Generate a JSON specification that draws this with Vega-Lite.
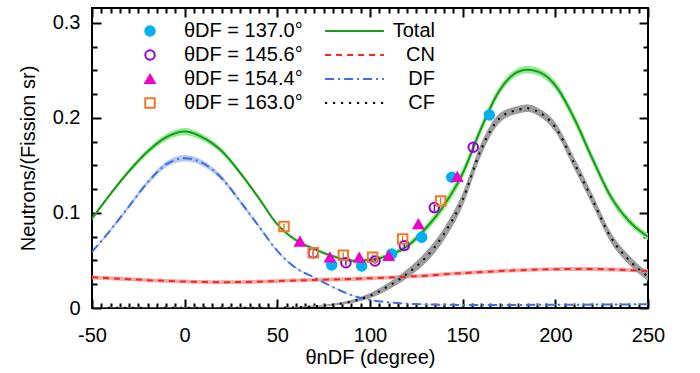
{
  "$schema": "https://vega.github.io/schema/vega-lite/v6.json",
  "width": 556,
  "height": 300,
  "autosize": {"type": "none"},
  "padding": {"left": 92, "top": 8, "right": 52, "bottom": 65},
  "background": "white",
  "config": {
    "font": "Liberation Sans",
    "view": {"stroke": "black", "strokeWidth": 2},
    "axis": {"grid": false, "domain": false, "labelColor": "black", "titleColor": "black", "labelFontSize": 20, "titleFontSize": 20, "titleFontWeight": "normal", "labelOverlap": false, "labelFlush": false, "labelBound": false}
  },
  "datasets": {
    "curves": [
      {"c":"Total","x":-50,"y":0.094,"lo":0.0925,"hi":0.0955},
      {"c":"Total","x":-40,"y":0.12,"lo":0.118,"hi":0.122},
      {"c":"Total","x":-30,"y":0.144,"lo":0.1415,"hi":0.1465},
      {"c":"Total","x":-20,"y":0.1645,"lo":0.1615,"hi":0.1675},
      {"c":"Total","x":-10,"y":0.1795,"lo":0.176,"hi":0.183},
      {"c":"Total","x":0,"y":0.1856,"lo":0.1818,"hi":0.1894},
      {"c":"Total","x":10,"y":0.179,"lo":0.1755,"hi":0.1825},
      {"c":"Total","x":20,"y":0.165,"lo":0.162,"hi":0.168},
      {"c":"Total","x":30,"y":0.142,"lo":0.1395,"hi":0.1445},
      {"c":"Total","x":40,"y":0.1155,"lo":0.1135,"hi":0.1175},
      {"c":"Total","x":50,"y":0.088,"lo":0.0865,"hi":0.0895},
      {"c":"Total","x":60,"y":0.0715,"lo":0.07,"hi":0.073},
      {"c":"Total","x":70,"y":0.062,"lo":0.0605,"hi":0.0635},
      {"c":"Total","x":80,"y":0.0545,"lo":0.053,"hi":0.056},
      {"c":"Total","x":90,"y":0.0498,"lo":0.0483,"hi":0.0513},
      {"c":"Total","x":100,"y":0.0505,"lo":0.0485,"hi":0.0525},
      {"c":"Total","x":110,"y":0.0555,"lo":0.053,"hi":0.058},
      {"c":"Total","x":120,"y":0.065,"lo":0.062,"hi":0.068},
      {"c":"Total","x":130,"y":0.0836,"lo":0.0796,"hi":0.0876},
      {"c":"Total","x":140,"y":0.1083,"lo":0.1033,"hi":0.1133},
      {"c":"Total","x":150,"y":0.1416,"lo":0.1361,"hi":0.1471},
      {"c":"Total","x":160,"y":0.189,"lo":0.184,"hi":0.194},
      {"c":"Total","x":170,"y":0.229,"lo":0.2245,"hi":0.2335},
      {"c":"Total","x":180,"y":0.2485,"lo":0.2445,"hi":0.2525},
      {"c":"Total","x":185,"y":0.2505,"lo":0.2465,"hi":0.2545},
      {"c":"Total","x":190,"y":0.249,"lo":0.245,"hi":0.253},
      {"c":"Total","x":200,"y":0.234,"lo":0.2295,"hi":0.2385},
      {"c":"Total","x":210,"y":0.2,"lo":0.195,"hi":0.205},
      {"c":"Total","x":220,"y":0.157,"lo":0.152,"hi":0.162},
      {"c":"Total","x":230,"y":0.117,"lo":0.1125,"hi":0.1215},
      {"c":"Total","x":240,"y":0.091,"lo":0.087,"hi":0.095},
      {"c":"Total","x":250,"y":0.075,"lo":0.0715,"hi":0.0785},
      {"c":"DF","x":-50,"y":0.059,"lo":0.058,"hi":0.06},
      {"c":"DF","x":-40,"y":0.082,"lo":0.0805,"hi":0.0835},
      {"c":"DF","x":-30,"y":0.107,"lo":0.105,"hi":0.109},
      {"c":"DF","x":-20,"y":0.132,"lo":0.1295,"hi":0.1345},
      {"c":"DF","x":-10,"y":0.151,"lo":0.148,"hi":0.154},
      {"c":"DF","x":0,"y":0.1575,"lo":0.1542,"hi":0.1608},
      {"c":"DF","x":10,"y":0.152,"lo":0.149,"hi":0.155},
      {"c":"DF","x":20,"y":0.1365,"lo":0.134,"hi":0.139},
      {"c":"DF","x":30,"y":0.112,"lo":0.11,"hi":0.114},
      {"c":"DF","x":40,"y":0.086,"lo":0.0845,"hi":0.0875},
      {"c":"DF","x":50,"y":0.06,"lo":0.059,"hi":0.061},
      {"c":"DF","x":60,"y":0.042,"lo":0.0412,"hi":0.0428},
      {"c":"DF","x":70,"y":0.032,"lo":0.0314,"hi":0.0326},
      {"c":"DF","x":80,"y":0.022,"lo":0.0215,"hi":0.0225},
      {"c":"DF","x":90,"y":0.0135,"lo":0.0131,"hi":0.0139},
      {"c":"DF","x":100,"y":0.0085,"lo":0.0082,"hi":0.0088},
      {"c":"DF","x":110,"y":0.006,"lo":0.0057,"hi":0.0063},
      {"c":"DF","x":120,"y":0.0045,"lo":0.0042,"hi":0.0048},
      {"c":"DF","x":130,"y":0.0038,"lo":0.0035,"hi":0.0041},
      {"c":"DF","x":140,"y":0.0034,"lo":0.0031,"hi":0.0037},
      {"c":"DF","x":150,"y":0.0032,"lo":0.0029,"hi":0.0035},
      {"c":"DF","x":160,"y":0.0031,"lo":0.0028,"hi":0.0034},
      {"c":"DF","x":170,"y":0.0031,"lo":0.0028,"hi":0.0034},
      {"c":"DF","x":180,"y":0.0032,"lo":0.0029,"hi":0.0035},
      {"c":"DF","x":190,"y":0.0033,"lo":0.003,"hi":0.0036},
      {"c":"DF","x":200,"y":0.0034,"lo":0.0031,"hi":0.0037},
      {"c":"DF","x":210,"y":0.0035,"lo":0.0032,"hi":0.0038},
      {"c":"DF","x":220,"y":0.0036,"lo":0.0033,"hi":0.0039},
      {"c":"DF","x":230,"y":0.0037,"lo":0.0034,"hi":0.004},
      {"c":"DF","x":240,"y":0.0038,"lo":0.0035,"hi":0.0041},
      {"c":"DF","x":250,"y":0.004,"lo":0.0037,"hi":0.0043},
      {"c":"CN","x":-50,"y":0.0323,"lo":0.0303,"hi":0.0343},
      {"c":"CN","x":-40,"y":0.0313,"lo":0.0293,"hi":0.0333},
      {"c":"CN","x":-30,"y":0.0303,"lo":0.0283,"hi":0.0323},
      {"c":"CN","x":-20,"y":0.0293,"lo":0.0273,"hi":0.0313},
      {"c":"CN","x":-10,"y":0.0285,"lo":0.0265,"hi":0.0305},
      {"c":"CN","x":0,"y":0.0278,"lo":0.0258,"hi":0.0298},
      {"c":"CN","x":10,"y":0.0274,"lo":0.0254,"hi":0.0294},
      {"c":"CN","x":20,"y":0.0272,"lo":0.0252,"hi":0.0292},
      {"c":"CN","x":30,"y":0.0273,"lo":0.0253,"hi":0.0293},
      {"c":"CN","x":40,"y":0.0277,"lo":0.0257,"hi":0.0297},
      {"c":"CN","x":50,"y":0.0283,"lo":0.0263,"hi":0.0303},
      {"c":"CN","x":60,"y":0.029,"lo":0.027,"hi":0.031},
      {"c":"CN","x":70,"y":0.0295,"lo":0.0275,"hi":0.0315},
      {"c":"CN","x":80,"y":0.03,"lo":0.028,"hi":0.032},
      {"c":"CN","x":90,"y":0.0305,"lo":0.0285,"hi":0.0325},
      {"c":"CN","x":100,"y":0.0313,"lo":0.0293,"hi":0.0333},
      {"c":"CN","x":110,"y":0.032,"lo":0.03,"hi":0.034},
      {"c":"CN","x":120,"y":0.033,"lo":0.031,"hi":0.035},
      {"c":"CN","x":130,"y":0.034,"lo":0.032,"hi":0.036},
      {"c":"CN","x":140,"y":0.0355,"lo":0.0335,"hi":0.0375},
      {"c":"CN","x":150,"y":0.0367,"lo":0.0347,"hi":0.0387},
      {"c":"CN","x":160,"y":0.0378,"lo":0.0358,"hi":0.0398},
      {"c":"CN","x":170,"y":0.0388,"lo":0.0368,"hi":0.0408},
      {"c":"CN","x":180,"y":0.0397,"lo":0.0377,"hi":0.0417},
      {"c":"CN","x":190,"y":0.0404,"lo":0.0384,"hi":0.0424},
      {"c":"CN","x":200,"y":0.0408,"lo":0.0388,"hi":0.0428},
      {"c":"CN","x":210,"y":0.041,"lo":0.039,"hi":0.043},
      {"c":"CN","x":220,"y":0.041,"lo":0.039,"hi":0.043},
      {"c":"CN","x":230,"y":0.0405,"lo":0.0385,"hi":0.0425},
      {"c":"CN","x":240,"y":0.0398,"lo":0.0378,"hi":0.0418},
      {"c":"CN","x":250,"y":0.039,"lo":0.037,"hi":0.041},
      {"c":"CF","x":-50,"y":0.0002,"lo":0,"hi":0.0004},
      {"c":"CF","x":-40,"y":0.0002,"lo":0,"hi":0.0004},
      {"c":"CF","x":-30,"y":0.0002,"lo":0,"hi":0.0004},
      {"c":"CF","x":-20,"y":0.0002,"lo":0,"hi":0.0004},
      {"c":"CF","x":-10,"y":0.0002,"lo":0,"hi":0.0004},
      {"c":"CF","x":0,"y":0.0002,"lo":0,"hi":0.0004},
      {"c":"CF","x":10,"y":0.0002,"lo":0,"hi":0.0004},
      {"c":"CF","x":20,"y":0.0002,"lo":0,"hi":0.0004},
      {"c":"CF","x":30,"y":0.0002,"lo":0,"hi":0.0004},
      {"c":"CF","x":40,"y":0.0002,"lo":0,"hi":0.0004},
      {"c":"CF","x":50,"y":0.0004,"lo":0.0001,"hi":0.0007},
      {"c":"CF","x":60,"y":0.0009,"lo":0.0004,"hi":0.0014},
      {"c":"CF","x":70,"y":0.0018,"lo":0.001,"hi":0.0026},
      {"c":"CF","x":80,"y":0.0035,"lo":0.0023,"hi":0.0047},
      {"c":"CF","x":90,"y":0.0068,"lo":0.005,"hi":0.0086},
      {"c":"CF","x":100,"y":0.013,"lo":0.0102,"hi":0.0158},
      {"c":"CF","x":110,"y":0.023,"lo":0.0192,"hi":0.0268},
      {"c":"CF","x":120,"y":0.036,"lo":0.0312,"hi":0.0408},
      {"c":"CF","x":130,"y":0.053,"lo":0.0472,"hi":0.0588},
      {"c":"CF","x":140,"y":0.078,"lo":0.0715,"hi":0.0845},
      {"c":"CF","x":150,"y":0.114,"lo":0.107,"hi":0.121},
      {"c":"CF","x":160,"y":0.167,"lo":0.1605,"hi":0.1735},
      {"c":"CF","x":170,"y":0.1997,"lo":0.1947,"hi":0.2047},
      {"c":"CF","x":180,"y":0.2085,"lo":0.2045,"hi":0.2125},
      {"c":"CF","x":185,"y":0.21,"lo":0.206,"hi":0.214},
      {"c":"CF","x":190,"y":0.207,"lo":0.203,"hi":0.211},
      {"c":"CF","x":200,"y":0.19,"lo":0.185,"hi":0.195},
      {"c":"CF","x":210,"y":0.153,"lo":0.147,"hi":0.159},
      {"c":"CF","x":220,"y":0.114,"lo":0.108,"hi":0.12},
      {"c":"CF","x":230,"y":0.074,"lo":0.0685,"hi":0.0795},
      {"c":"CF","x":240,"y":0.05,"lo":0.045,"hi":0.055},
      {"c":"CF","x":250,"y":0.033,"lo":0.0285,"hi":0.0375}
    ],
    "pts": [
      {"s":"θDF = 137.0°","x":79.3,"y":0.0453,"lo":0.0423,"hi":0.0483},
      {"s":"θDF = 137.0°","x":95.5,"y":0.0442,"lo":0.0412,"hi":0.0472},
      {"s":"θDF = 137.0°","x":111.7,"y":0.0568,"lo":0.0538,"hi":0.0598},
      {"s":"θDF = 137.0°","x":127.9,"y":0.0744,"lo":0.0714,"hi":0.0774},
      {"s":"θDF = 137.0°","x":144.1,"y":0.1375,"lo":0.134,"hi":0.141},
      {"s":"θDF = 137.0°","x":164.4,"y":0.203,"lo":0.199,"hi":0.207},
      {"s":"θDF = 145.6°","x":69.4,"y":0.058,"lo":0.055,"hi":0.061},
      {"s":"θDF = 145.6°","x":87.0,"y":0.0477,"lo":0.0447,"hi":0.0507},
      {"s":"θDF = 145.6°","x":102.7,"y":0.0495,"lo":0.0465,"hi":0.0525},
      {"s":"θDF = 145.6°","x":118.5,"y":0.0656,"lo":0.0626,"hi":0.0686},
      {"s":"θDF = 145.6°","x":134.7,"y":0.1056,"lo":0.1021,"hi":0.1091},
      {"s":"θDF = 145.6°","x":155.7,"y":0.169,"lo":0.165,"hi":0.173},
      {"s":"θDF = 154.4°","x":62.2,"y":0.0698,"lo":0.0668,"hi":0.0728},
      {"s":"θDF = 154.4°","x":78.4,"y":0.0533,"lo":0.0503,"hi":0.0563},
      {"s":"θDF = 154.4°","x":94.2,"y":0.053,"lo":0.05,"hi":0.056},
      {"s":"θDF = 154.4°","x":110.1,"y":0.0547,"lo":0.0517,"hi":0.0577},
      {"s":"θDF = 154.4°","x":126.1,"y":0.0881,"lo":0.0851,"hi":0.0911},
      {"s":"θDF = 154.4°","x":147.1,"y":0.1378,"lo":0.1343,"hi":0.1413},
      {"s":"θDF = 163.0°","x":53.6,"y":0.0856,"lo":0.0826,"hi":0.0886},
      {"s":"θDF = 163.0°","x":69.4,"y":0.0582,"lo":0.0552,"hi":0.0612},
      {"s":"θDF = 163.0°","x":85.6,"y":0.0554,"lo":0.0524,"hi":0.0584},
      {"s":"θDF = 163.0°","x":101.4,"y":0.0533,"lo":0.0503,"hi":0.0563},
      {"s":"θDF = 163.0°","x":117.6,"y":0.0726,"lo":0.0696,"hi":0.0756},
      {"s":"θDF = 163.0°","x":138.1,"y":0.1126,"lo":0.1091,"hi":0.1161}
    ]
  },
  "resolve": {"axis": {"x": "independent", "y": "independent"}},
  "layer": [
    {
      "data": {"name": "curves"},
      "transform": [{"filter": "datum.c === 'Total'"}],
      "mark": {"type": "area", "color": "#90ee90", "interpolate": "monotone", "clip": true},
      "encoding": {
        "x": {"field": "x", "type": "quantitative", "scale": {"domain": [-50, 250], "nice": false},
          "axis": {"orient": "bottom", "values": [-50, 0, 50, 100, 150, 200, 250], "offset": -9, "ticks": true, "tickSize": 9, "tickColor": "black", "tickOpacity": 1, "tickWidth": 2,
            "labelExpr": "'' + datum.value", "labelPadding": 17, "title": "θnDF (degree)", "titlePadding": 2}},
        "y": {"field": "lo", "type": "quantitative", "scale": {"domain": [0, 0.3155], "nice": false, "zero": false},
          "axis": {"orient": "left", "values": [0, 0.1, 0.2, 0.3], "offset": -9, "ticks": true, "tickSize": 9, "tickColor": "black", "tickOpacity": 1, "tickWidth": 2,
            "labelExpr": "datum.value === 0 ? '0' : format(datum.value, '.1f')", "labelPadding": 12,
            "title": "Neutrons/(Fission sr)", "titlePadding": 14}},
        "y2": {"field": "hi"}
      }
    },
    {
      "data": {"name": "curves"},
      "transform": [{"filter": "datum.c === 'DF'"}],
      "mark": {"type": "area", "color": "#b6c7f2", "interpolate": "monotone", "clip": true},
      "encoding": {
        "x": {"field": "x", "type": "quantitative",
          "axis": {"orient": "top", "values": [-50, 0, 50, 100, 150, 200, 250], "offset": -9, "ticks": true, "tickSize": 9, "tickColor": "black", "tickOpacity": 1, "tickWidth": 2, "labels": false, "title": null}},
        "y": {"field": "lo", "type": "quantitative",
          "axis": {"orient": "right", "values": [0, 0.1, 0.2, 0.3], "offset": -9, "ticks": true, "tickSize": 9, "tickColor": "black", "tickOpacity": 1, "tickWidth": 2, "labels": false, "title": null}},
        "y2": {"field": "hi"}
      }
    },
    {
      "data": {"name": "curves"},
      "transform": [{"filter": "datum.c === 'CN'"}],
      "mark": {"type": "area", "color": "#f5aaaa", "interpolate": "monotone", "clip": true},
      "encoding": {
        "x": {"field": "x", "type": "quantitative",
          "axis": {"orient": "bottom", "values": [-45,-40,-35,-30,-25,-20,-15,-10,-5,5,10,15,20,25,30,35,40,45,55,60,65,70,75,80,85,90,95,105,110,115,120,125,130,135,140,145,155,160,165,170,175,180,185,190,195,205,210,215,220,225,230,235,240,245], "offset": -5, "ticks": true, "tickSize": 5, "tickColor": "black", "tickOpacity": 1, "tickWidth": 2, "labels": false, "title": null}},
        "y": {"field": "lo", "type": "quantitative",
          "axis": {"orient": "left", "values": [0.025, 0.05, 0.075, 0.125, 0.15, 0.175, 0.225, 0.25, 0.275], "offset": -5, "ticks": true, "tickSize": 5, "tickColor": "black", "tickOpacity": 1, "tickWidth": 2, "labels": false, "title": null}},
        "y2": {"field": "hi"}
      }
    },
    {
      "data": {"name": "curves"},
      "transform": [{"filter": "datum.c === 'CF'"}],
      "mark": {"type": "area", "color": "#9c9c9c", "interpolate": "monotone", "clip": true},
      "encoding": {
        "x": {"field": "x", "type": "quantitative",
          "axis": {"orient": "top", "values": [-45,-40,-35,-30,-25,-20,-15,-10,-5,5,10,15,20,25,30,35,40,45,55,60,65,70,75,80,85,90,95,105,110,115,120,125,130,135,140,145,155,160,165,170,175,180,185,190,195,205,210,215,220,225,230,235,240,245], "offset": -5, "ticks": true, "tickSize": 5, "tickColor": "black", "tickOpacity": 1, "tickWidth": 2, "labels": false, "title": null}},
        "y": {"field": "lo", "type": "quantitative",
          "axis": {"orient": "right", "values": [0.025, 0.05, 0.075, 0.125, 0.15, 0.175, 0.225, 0.25, 0.275], "offset": -5, "ticks": true, "tickSize": 5, "tickColor": "black", "tickOpacity": 1, "tickWidth": 2, "labels": false, "title": null}},
        "y2": {"field": "hi"}
      }
    },
    {
      "data": {"name": "curves"},
      "mark": {"type": "line", "interpolate": "monotone", "strokeWidth": 2, "clip": true},
      "encoding": {
        "x": {"field": "x", "type": "quantitative", "axis": null},
        "y": {"field": "y", "type": "quantitative", "axis": null},
        "color": {"field": "c", "type": "nominal",
          "scale": {"domain": ["Total", "CN", "DF", "CF"], "range": ["#1e961e", "#ff2020", "#3b6fe3", "#000000"]},
          "legend": {"orient": "none", "legendX": 252.5, "legendY": 13, "title": null, "symbolType": "M-4.9,0H4.9", "symbolSize": 144, "symbolStrokeWidth": 2, "labelAlign": "right", "labelOffset": 70.5, "labelFontSize": 20, "labelColor": "black", "rowPadding": 4, "padding": 0, "labelLimit": 0}},
        "strokeDash": {"field": "c", "type": "nominal",
          "scale": {"domain": ["Total", "CN", "DF", "CF"], "range": [[1, 0], [6, 5], [9, 4, 2, 4], [2, 6]]},
          "legend": {"orient": "none", "legendX": 252.5, "legendY": 13, "title": null, "symbolType": "M-4.9,0H4.9", "symbolSize": 144, "symbolStrokeWidth": 2, "labelAlign": "right", "labelOffset": 70.5, "labelFontSize": 20, "labelColor": "black", "rowPadding": 4, "padding": 0, "labelLimit": 0}}
      }
    },
    {
      "data": {"name": "pts"},
      "transform": [{"filter": "datum.s === 'θDF = 145.6°'"}],
      "mark": {"type": "rule", "strokeWidth": 1.5, "stroke": "#9400d3", "strokeOpacity": 1, "opacity": 1},
      "encoding": {
        "x": {"field": "x", "type": "quantitative", "axis": null},
        "y": {"field": "lo", "type": "quantitative", "axis": null},
        "y2": {"field": "hi"}
      }
    },
    {
      "data": {"name": "pts"},
      "transform": [{"filter": "datum.s === 'θDF = 163.0°'"}],
      "mark": {"type": "rule", "strokeWidth": 1.5, "stroke": "#f07828", "strokeOpacity": 1, "opacity": 1},
      "encoding": {
        "x": {"field": "x", "type": "quantitative", "axis": null},
        "y": {"field": "lo", "type": "quantitative", "axis": null},
        "y2": {"field": "hi"}
      }
    },
    {
      "data": {"name": "pts"},
      "mark": {"type": "point", "size": 90, "strokeWidth": 2, "opacity": 1},
      "encoding": {
        "x": {"field": "x", "type": "quantitative", "axis": null},
        "y": {"field": "y", "type": "quantitative", "axis": null},
        "shape": {"field": "s", "type": "nominal",
          "scale": {"domain": ["θDF = 137.0°", "θDF = 145.6°", "θDF = 154.4°", "θDF = 163.0°"], "range": ["circle", "circle", "triangle-up", "square"]},
          "legend": {"orient": "none", "legendX": 48, "legendY": 13, "title": null, "symbolSize": 90, "symbolStrokeWidth": 2, "labelOffset": 24, "labelFontSize": 20, "labelColor": "black", "rowPadding": 4, "padding": 0, "labelLimit": 0}},
        "fill": {"field": "s", "type": "nominal",
          "scale": {"domain": ["θDF = 137.0°", "θDF = 145.6°", "θDF = 154.4°", "θDF = 163.0°"], "range": ["#00b0f0", "transparent", "#f000c8", "transparent"]},
          "legend": {"orient": "none", "legendX": 48, "legendY": 13, "title": null, "symbolSize": 90, "symbolStrokeWidth": 2, "labelOffset": 24, "labelFontSize": 20, "labelColor": "black", "rowPadding": 4, "padding": 0, "labelLimit": 0}},
        "stroke": {"field": "s", "type": "nominal",
          "scale": {"domain": ["θDF = 137.0°", "θDF = 145.6°", "θDF = 154.4°", "θDF = 163.0°"], "range": ["#00b0f0", "#9400d3", "#f000c8", "#f07828"]},
          "legend": {"orient": "none", "legendX": 48, "legendY": 13, "title": null, "symbolSize": 90, "symbolStrokeWidth": 2, "labelOffset": 24, "labelFontSize": 20, "labelColor": "black", "rowPadding": 4, "padding": 0, "labelLimit": 0}}
      }
    }
  ]
}
